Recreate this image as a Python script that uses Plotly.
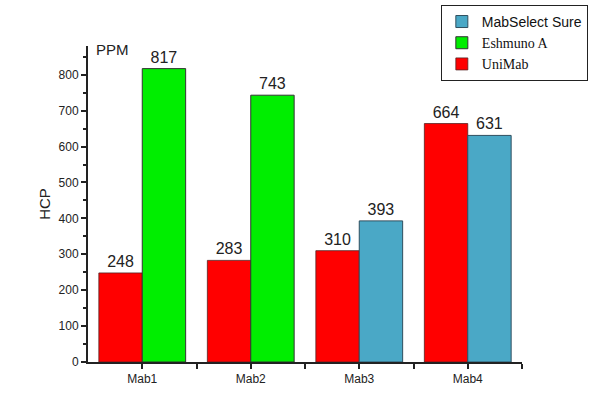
import plotly.graph_objects as go

samples = ["Mab1", "Mab2", "Mab3", "Mab4"]
unimab = [248, 283, 310, 664]
eshmuno = [817, 743, None, None]
mabselect = [None, None, 393, 631]

sans = "Liberation Sans, Arial, sans-serif"
label_font = dict(family=sans, size=16, color="#222222")

fig = go.Figure()
fig.add_trace(go.Bar(
    x=samples, y=unimab, name='<span style="font-family:Liberation Serif">UniMab</span>',
    marker=dict(color="#ff0000", line=dict(color="#552222", width=0.8)),
    offsetgroup="a", text=unimab, textposition="outside", textfont=label_font,
    cliponaxis=False,
))
fig.add_trace(go.Bar(
    x=samples, y=eshmuno, name='<span style="font-family:Liberation Serif">Eshmuno A</span>',
    marker=dict(color="#00ee00", line=dict(color="#333333", width=1)),
    offsetgroup="b", text=eshmuno, textposition="outside", textfont=label_font,
    cliponaxis=False,
))
fig.add_trace(go.Bar(
    x=samples, y=mabselect, name="MabSelect Sure",
    marker=dict(color="#4aa8c6", line=dict(color="#2f4f5f", width=1)),
    offsetgroup="b", text=mabselect, textposition="outside", textfont=label_font,
    cliponaxis=False,
))

fig.update_layout(
    width=604, height=401,
    barmode="group", bargap=0.2, bargroupgap=0,
    plot_bgcolor="white", paper_bgcolor="white",
    margin=dict(l=88, r=82, t=46, b=39, autoexpand=False),
    font=dict(family=sans, size=12, color="#222222"),
    legend=dict(
        x=0.813, xanchor="left", y=1.13, yanchor="top",
        traceorder="reversed", bordercolor="#222222", borderwidth=1,
        bgcolor="white", font=dict(size=14, color="#111111"),
        itemwidth=30, tracegroupgap=0,
    ),
    annotations=[dict(
        text="PPM", x=0, xref="paper", y=1, yref="paper",
        xanchor="left", yanchor="middle", xshift=6, yshift=-3,
        showarrow=False, font=dict(family=sans, size=15, color="#222222"),
    )],
)
fig.update_xaxes(
    showline=True, linecolor="#222222", linewidth=2,
    ticks="outside", ticklen=5, tickcolor="#222222", tickwidth=1.5,
    minor=dict(ticks="outside", ticklen=5, tickcolor="#222222", tickmode="array",
               tickvals=[0.5, 1.5, 2.5, 3.5]),
    range=[-0.5, 3.5], showgrid=False,
    tickfont=dict(size=12),
)
fig.update_yaxes(
    range=[0, 880], dtick=100, showline=True, linecolor="#222222", linewidth=2,
    ticks="outside", ticklen=5, tickcolor="#222222", tickwidth=1.5,
    minor=dict(ticks="outside", ticklen=3, tickcolor="#222222", dtick=50),
    showgrid=False, zeroline=False,
    title=dict(text="HCP", font=dict(size=15), standoff=4),
    tickfont=dict(size=12),
)

# page body has a default margin; drop it so the figure sits at the window corner
fig.write_html("out.html", config={"displayModeBar": False},
               post_script="document.body.style.margin='0';")
